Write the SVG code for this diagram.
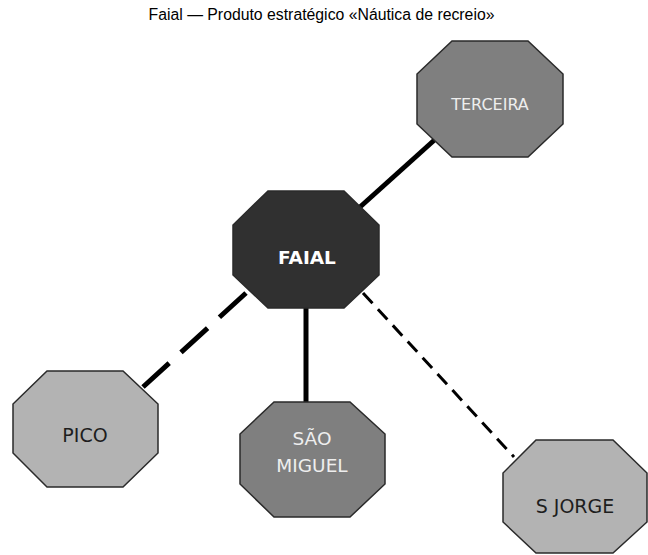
<svg xmlns="http://www.w3.org/2000/svg" width="648" height="555" viewBox="0 0 648 555">
<style>
.oct{stroke:#2a2a2a;stroke-width:1.5;stroke-linejoin:miter}
.dark{fill:#303030}
.mid{fill:#7f7f7f}
.light{fill:#b3b3b3}
.lbl{font-family:"DejaVu Sans",Verdana,sans-serif;text-anchor:middle}
.title{font-family:"Liberation Sans",Arial,sans-serif;font-size:15.8px;fill:#000;text-anchor:middle}
.conn{stroke:#000;fill:none}
</style>
<rect width="648" height="555" fill="#fff"/>
<text class="title" x="321.5" y="20">Faial — Produto estratégico «Náutica de recreio»</text>
<g id="connectors">
<line class="conn" x1="350" y1="216" x2="440" y2="135" stroke-width="5"/>
<line class="conn" x1="306" y1="308" x2="306" y2="402" stroke-width="5"/>
<line class="conn" x1="246" y1="293" x2="143" y2="387" stroke-width="5" stroke-dasharray="36,16"/>
<line class="conn" x1="363" y1="293" x2="514" y2="457" stroke-width="3" stroke-dasharray="14,8"/>
</g>
<g id="terceira">
<polygon class="oct mid" points="452,41 528,41 563,74 563,124 528,157 452,157 417,124 417,74"/>
<text class="lbl" x="490" y="110" font-size="16" fill="#eeeeee">TERCEIRA</text>
</g>
<g id="faial">
<polygon class="oct dark" points="268,191 344,191 379,225 379,275 344,308 268,308 233,275 233,225"/>
<text class="lbl" x="307" y="264" font-size="18.5" font-weight="bold" fill="#ffffff">FAIAL</text>
</g>
<g id="pico">
<polygon class="oct light" points="47,371 123,371 158,404 158,453 123,487 47,487 13,453 13,404"/>
<text class="lbl" x="85" y="442" font-size="19" fill="#1e1e1e">PICO</text>
</g>
<g id="sao-miguel">
<polygon class="oct mid" points="274,402 350,402 385,434 385,484 350,517 274,517 240,484 240,434"/>
<text class="lbl" x="312" y="445" font-size="18.5" fill="#eeeeee">SÃO</text>
<text class="lbl" x="312" y="472" font-size="18.5" fill="#eeeeee">MIGUEL</text>
</g>
<g id="s-jorge">
<polygon class="oct light" points="536,440 613,440 647,473 647,522 613,553 536,553 503,522 503,473"/>
<text class="lbl" x="575" y="513" font-size="19" fill="#1e1e1e">S JORGE</text>
</g>
</svg>
